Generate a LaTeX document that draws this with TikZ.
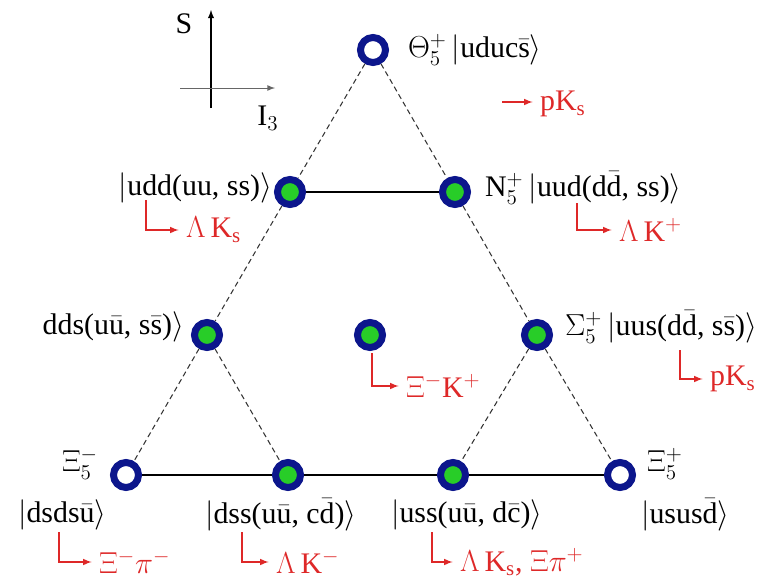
\documentclass[tikz,border=0pt]{standalone}
\usepackage{fontspec}
\setmainfont{Liberation Serif}
\usetikzlibrary{positioning}
\definecolor{ringblue}{RGB}{12,22,140}
\definecolor{dotgreen}{RGB}{40,205,40}
\definecolor{decayred}{RGB}{222,40,40}
\newcommand{\aq}[1]{\ensuremath{\bar{\mbox{#1}}}}
\newcommand{\qket}[1]{$\big|$#1$\big\rangle$}
\tikzset{
	pentastate/.style={circle, draw=ringblue, line width=4pt, minimum size=0.5cm, inner sep=0pt, fill=dotgreen},
	openstate/.style={pentastate, fill=white},
	lbl/.style={font=\fontsize{17}{19}\selectfont, inner sep=1pt},
	decay/.style={lbl, text=decayred},
	decayarrow/.style={decayred, line width=0.7pt, ->, shorten >=3pt},
	side/.style={densely dashed, line width=0.6pt, black!80},
}

\begin{document}
\begin{tikzpicture}[x=0.02cm, y=-0.02cm, >=latex]
	\useasboundingbox (0,0) rectangle (779,579);
	% axes
	\coordinate (sfoot) at (211,108);
	\coordinate (stip) at (211,10);
	\coordinate (ifoot) at (180,88);
	\coordinate (itip) at (275,88);
	\draw[->, line width=0.6pt] (sfoot) -- (stip);
	\draw[->, line width=0.5pt, black!60] (ifoot) -- (itip);
	\node[lbl] (slabel) at (184,24) {S};
	\node[lbl] (ilabel) at (268,118) {I$_3$};
	% states
	\node[openstate] (theta) at (373,50) {};
	\node[pentastate] (udd) at (290,192) {};
	\node[pentastate] (nucl) at (455,192) {};
	\node[pentastate] (dds) at (207,335) {};
	\node[pentastate] (mid) at (370,335) {};
	\node[pentastate] (sigma) at (537,335) {};
	\node[openstate] (ximm) at (126,475) {};
	\node[pentastate] (dss) at (288,475) {};
	\node[pentastate] (uss) at (453,475) {};
	\node[openstate] (xipp) at (620,475) {};
	% edges
	\draw[side] (theta) -- (udd) -- (dds) -- (ximm);
	\draw[side] (theta) -- (nucl) -- (sigma) -- (xipp);
	\draw[side] (dds) -- (dss);
	\draw[side] (sigma) -- (uss);
	\draw[line width=0.8pt] (udd) -- (nucl);
	\draw[line width=1.4pt] (ximm) -- (dss) -- (uss) -- (xipp);
	% labels
	\node[lbl, anchor=west] (thetalbl) at (406,50) {$\Theta_5^+$\,\qket{uduc\aq{s}}};
	\node[lbl, anchor=east] (uddlbl) at (274,188) {\qket{udd(uu, ss)}};
	\node[lbl, anchor=west] (nucllbl) at (483,188) {N$_5^+$\,\qket{uud(d\aq{d}, ss)}};
	\node[lbl, anchor=east] (ddslbl) at (186,327) {dds(u\aq{u}, s\aq{s})$\big\rangle$};
	\node[lbl, anchor=west] (sigmalbl) at (563,327) {$\Sigma_5^+$\,\qket{uus(d\aq{d}, s\aq{s})}};
	\node[lbl] (ximmlbl) at (80,464) {$\Xi_5^-$};
	\node[lbl, anchor=west] (ximmket) at (16,515) {\qket{dsds\aq{u}}};
	\node[lbl, anchor=west] (dsslbl) at (203,515) {\qket{dss(u\aq{u}, c\aq{d})}};
	\node[lbl, anchor=west] (usslbl) at (389,515) {\qket{uss(u\aq{u}, d\aq{c})}};
	\node[lbl, anchor=west] (xipplbl) at (645,464) {$\Xi_5^+$};
	\node[lbl, anchor=west] (xippket) at (639,515) {\qket{usus\aq{d}}};
	% decays
	\coordinate (thetafoot) at (502,102);
	\node[decay, anchor=west] (thetaout) at (538,104) {pK$_\mathrm{s}$};
	\draw[decayarrow] (thetafoot) -- (thetaout.west |- thetafoot);
	\coordinate (uddfoot) at (146,200);
	\node[decay, anchor=west] (uddout) at (184,230) {$\Lambda$\,K$_\mathrm{s}$};
	\draw[decayarrow] (uddfoot) |- (uddout);
	\coordinate (nuclfoot) at (577,203);
	\node[decay, anchor=west] (nuclout) at (617,230) {$\Lambda$\,K$^+$};
	\draw[decayarrow] (nuclfoot) |- (nuclout);
	\coordinate (midfoot) at (372,353);
	\node[decay, anchor=west] (midout) at (404,386) {$\Xi^-$K$^+$};
	\draw[decayarrow] (midfoot) |- (midout);
	\coordinate (sigmafoot) at (680,350);
	\node[decay, anchor=west] (sigmaout) at (708,379) {pK$_\mathrm{s}$};
	\draw[decayarrow] (sigmafoot) |- (sigmaout);
	\coordinate (ximmfoot) at (59,532);
	\node[decay, anchor=west] (ximmout) at (97,562) {$\Xi^-\pi^-$};
	\draw[decayarrow] (ximmfoot) |- (ximmout);
	\coordinate (dssfoot) at (242,532);
	\node[decay, anchor=west] (dssout) at (274,562) {$\Lambda$\,K$^-$};
	\draw[decayarrow] (dssfoot) |- (dssout);
	\coordinate (ussfoot) at (432,532);
	\node[decay, anchor=west] (ussout) at (458,562) {$\Lambda$\,K$_\mathrm{s}$,\ $\Xi\pi^+$};
	\draw[decayarrow] (ussfoot) |- (ussout);
\end{tikzpicture}
\end{document}
